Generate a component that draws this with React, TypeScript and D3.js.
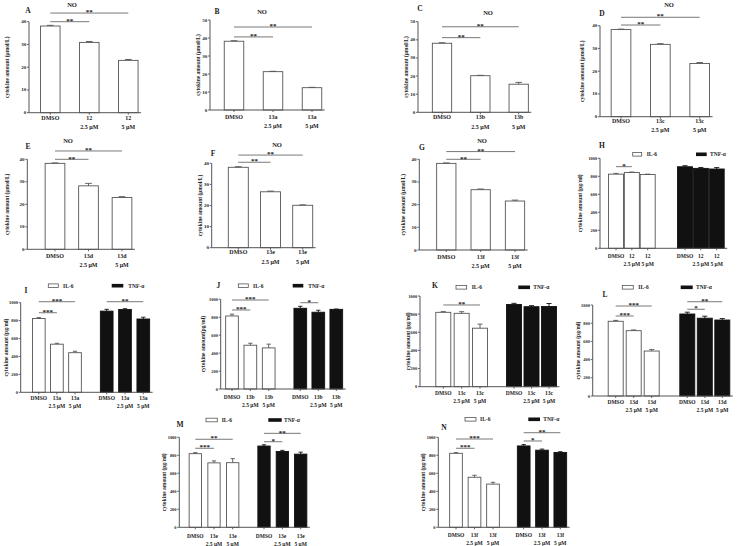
import React from "react";
import * as d3 from "d3";

const FONT = "'Liberation Serif', 'Times New Roman', serif";
const INK = "#222";
const LINE = "#555";

// ---------- data ----------
const doses = ["", "2.5 μM", "5 μM"];
const compounds = ["12", "13a", "13b", "13c", "13d", "13e", "13f"];
const noTicks40 = [0, 10, 20, 30, 40];
const noTicks50 = [0, 10, 20, 30, 40, 50];
const cytoTicks = [0, 200, 400, 600, 800, 1000];
const legendNames = ["IL-6", "TNF-α"];

const noA = [38.1, 30.9, 23.0]; const noAErr = [0.3, 0.4, 0.4];
const noB = [38.2, 21.3, 12.4]; const noBErr = [0.3, 0.2, 0.2];
const noC = [38.1, 20.2, 15.5]; const noCErr = [0.3, 0.2, 1.0];
const noD = [38.3, 31.8, 23.4]; const noDErr = [0.2, 0.3, 0.4];
const noE = [38.2, 28.2, 23.0]; const noEErr = [0.2, 1.1, 0.4];
const noF = [38.1, 26.5, 20.1]; const noFErr = [0.3, 0.3, 0.2];
const noG = [38.2, 26.6, 21.6]; const noGErr = [0.2, 0.3, 0.4];

const il6H = [824, 843, 820]; const il6HErr = [8, 4, 4];
const tnfH = [906, 888, 881]; const tnfHErr = [12, 10, 16];
const il6I = [824, 537, 442]; const il6IErr = [10, 10, 16];
const tnfI = [906, 925, 818]; const tnfIErr = [20, 8, 20];
const il6J = [814, 488, 458]; const il6JErr = [20, 22, 42];
const tnfJ = [900, 856, 888]; const tnfJErr = [22, 22, 4];
const il6K = [820, 809, 645]; const il6KErr = [8, 18, 45];
const tnfK = [907, 882, 884]; const tnfKErr = [12, 12, 33];
const il6L = [821, 718, 494]; const il6LErr = [10, 8, 16];
const tnfL = [901, 855, 835]; const tnfLErr = [20, 22, 16];
const il6M = [818, 716, 718]; const il6MErr = [12, 22, 45];
const tnfM = [903, 842, 813]; const tnfMErr = [14, 13, 22];
const il6N = [822, 556, 480]; const il6NErr = [8, 22, 20];
const tnfN = [904, 857, 832]; const tnfNErr = [15, 12, 8];

// significance: [fromBar, toBar, stars, level (data units)]
type Sig = [number, number, string, number];
const sigA: Sig[] = [[0, 1, "**", 40], [0, 2, "**", 43.8]];
const sigB: Sig[] = [[0, 1, "**", 40.6], [0, 2, "**", 46.1]];
const sigC: Sig[] = [[0, 1, "**", 41.2], [0, 2, "**", 47.2]];
const sigD: Sig[] = [[0, 1, "**", 40.3], [0, 2, "**", 43.7]];
const sigE: Sig[] = [[0, 1, "**", 40], [0, 2, "**", 43.7]];
const sigF: Sig[] = [[0, 1, "**", 40.5], [0, 2, "**", 43.9]];
const sigG: Sig[] = [[0, 1, "**", 40], [0, 2, "**", 43.4]];
const sigH: Sig[] = [[0, 1, "*", 907]];
const sigI: Sig[] = [[0, 1, "***", 888], [0, 2, "***", 1011], [3, 5, "**", 1011]];
const sigJ: Sig[] = [[0, 1, "***", 881], [0, 2, "***", 992], [3, 4, "*", 962]];
const sigK: Sig[] = [[0, 2, "**", 901]];
const sigL: Sig[] = [[0, 1, "***", 879], [0, 2, "***", 989], [3, 4, "*", 953], [3, 5, "**", 1036]];
const sigM: Sig[] = [[0, 1, "***", 878], [0, 2, "**", 978], [3, 4, "*", 951], [3, 5, "**", 1044]];
const sigN: Sig[] = [[0, 1, "***", 878], [0, 2, "***", 981], [3, 4, "*", 959], [3, 5, "**", 1051]];

// ---------- layout ----------
interface Cfg {
  letter: string;
  title?: string;
  yTitle: string;
  max: number;
  ticks: number[];
  compound: string;
  groups: { values: number[]; errs: number[]; dark: boolean }[];
  sig: Sig[];
  ax: number; yTop: number; yBot: number;
  centers: [number, number][];
  bw: number;
  yTitleX: number;
  letterPos: [number, number];
  titlePos?: [number, number];
  legend?: { y: number; wx: [number, number]; wt: number; bx: [number, number]; bt: number };
  labelDy: number;
  cyto: boolean;
}

const umol = "cytokine amount (μmol/L)";
const pg = "cytokine amount (pg/ml)";

const panels: Cfg[] = [
  { letter: "A", title: "NO", yTitle: umol, max: 40, ticks: noTicks40, compound: compounds[0],
    groups: [{ values: noA, errs: noAErr, dark: false }], sig: sigA,
    ax: 29, yTop: 21.7, yBot: 112.7, centers: [[50.3, 128.3]], bw: 19.5, yTitleX: 7,
    letterPos: [28, 10], titlePos: [72, 4], labelDy: 4.8, cyto: false },
  { letter: "B", title: "NO", yTitle: umol, max: 50, ticks: noTicks50, compound: compounds[1],
    groups: [{ values: noB, errs: noBErr, dark: false }], sig: sigB,
    ax: 210, yTop: 20, yBot: 110, centers: [[234, 312]], bw: 19.5, yTitleX: 197.5,
    letterPos: [217, 11], titlePos: [262, 11], labelDy: 7.2, cyto: false },
  { letter: "C", title: "NO", yTitle: umol, max: 50, ticks: noTicks50, compound: compounds[2],
    groups: [{ values: noC, errs: noCErr, dark: false }], sig: sigC,
    ax: 418, yTop: 21.7, yBot: 112.3, centers: [[442, 518.7]], bw: 19.3, yTitleX: 405.5,
    letterPos: [420, 8], titlePos: [488, 12], labelDy: 5, cyto: false },
  { letter: "D", title: "NO", yTitle: umol, max: 40, ticks: noTicks40, compound: compounds[3],
    groups: [{ values: noD, errs: noDErr, dark: false }], sig: sigD,
    ax: 600, yTop: 25.7, yBot: 116.7, centers: [[621, 699.7]], bw: 19.7, yTitleX: 582,
    letterPos: [602, 13], titlePos: [669, 4], labelDy: 4.2, cyto: false },
  { letter: "E", title: "NO", yTitle: umol, max: 40, ticks: noTicks40, compound: compounds[4],
    groups: [{ values: noE, errs: noEErr, dark: false }], sig: sigE,
    ax: 27.3, yTop: 159.3, yBot: 249.3, centers: [[55, 122]], bw: 19.7, yTitleX: 7,
    letterPos: [28, 146], titlePos: [68, 140], labelDy: 6.7, cyto: false },
  { letter: "F", title: "NO", yTitle: umol, max: 40, ticks: noTicks40, compound: compounds[5],
    groups: [{ values: noF, errs: noFErr, dark: false }], sig: sigF,
    ax: 211.7, yTop: 163.3, yBot: 247.7, centers: [[238.3, 302.7]], bw: 20, yTitleX: 199.5,
    letterPos: [213, 153], titlePos: [277, 144], labelDy: 4.6, cyto: false },
  { letter: "G", title: "NO", yTitle: umol, max: 40, ticks: noTicks40, compound: compounds[6],
    groups: [{ values: noG, errs: noGErr, dark: false }], sig: sigG,
    ax: 419.3, yTop: 159.3, yBot: 250, centers: [[446.3, 515]], bw: 19.3, yTitleX: 403,
    letterPos: [422, 147], titlePos: [482, 140], labelDy: 6.7, cyto: false },
  { letter: "H", yTitle: pg, max: 1000, ticks: cytoTicks, compound: compounds[0],
    groups: [{ values: il6H, errs: il6HErr, dark: false }, { values: tnfH, errs: tnfHErr, dark: true }], sig: sigH,
    ax: 600, yTop: 158.3, yBot: 248.3, centers: [[616, 647.7], [685, 716.7]], bw: 15, yTitleX: 580,
    letterPos: [602, 145], legend: { y: 154.3, wx: [632.7, 641.7], wt: 646.7, bx: [696, 706.7], bt: 710 },
    labelDy: 7.7, cyto: true },
  { letter: "I", yTitle: pg, max: 1000, ticks: cytoTicks, compound: compounds[1],
    groups: [{ values: il6I, errs: il6IErr, dark: false }, { values: tnfI, errs: tnfIErr, dark: true }], sig: sigI,
    ax: 20.7, yTop: 302.7, yBot: 392.3, centers: [[38.8, 75], [106.7, 143.3]], bw: 12.7, yTitleX: 6,
    letterPos: [26, 290], legend: { y: 285.7, wx: [48.3, 58.3], wt: 63, bx: [111.7, 123.3], bt: 128.3 },
    labelDy: 5.4, cyto: true },
  { letter: "J", yTitle: "cytokine amount(pg/ml)", max: 1000, ticks: cytoTicks, compound: compounds[2],
    groups: [{ values: il6J, errs: il6JErr, dark: false }, { values: tnfJ, errs: tnfJErr, dark: true }], sig: sigJ,
    ax: 220.7, yTop: 299.3, yBot: 389, centers: [[232, 268.7], [300.3, 336.3]], bw: 12.7, yTitleX: 202.7,
    letterPos: [218.3, 285.7], legend: { y: 285.7, wx: [238.3, 248.3], wt: 253, bx: [292.7, 303.3], bt: 308.3 },
    labelDy: 7.7, cyto: true },
  { letter: "K", yTitle: pg, max: 1000, ticks: cytoTicks, compound: compounds[3],
    groups: [{ values: il6K, errs: il6KErr, dark: false }, { values: tnfK, errs: tnfKErr, dark: true }], sig: sigK,
    ax: 420, yTop: 296, yBot: 386.7, centers: [[443.3, 480], [514, 549]], bw: 15, yTitleX: 408,
    letterPos: [435, 285], legend: { y: 287.3, wx: [456, 466.7], wt: 471.7, bx: [518.3, 530], bt: 533.3 },
    labelDy: 6, cyto: true },
  { letter: "L", yTitle: pg, max: 1000, ticks: cytoTicks, compound: compounds[4],
    groups: [{ values: il6L, errs: il6LErr, dark: false }, { values: tnfL, errs: tnfLErr, dark: true }], sig: sigL,
    ax: 592.7, yTop: 305, yBot: 396, centers: [[615.7, 651.7], [687.3, 722.3]], bw: 15, yTitleX: 578,
    letterPos: [605, 294], legend: { y: 287.3, wx: [622.3, 633.3], wt: 638.3, bx: [680.7, 692.7], bt: 696 },
    labelDy: 5.7, cyto: true },
  { letter: "M", yTitle: pg, max: 1000, ticks: cytoTicks, compound: compounds[5],
    groups: [{ values: il6M, errs: il6MErr, dark: false }, { values: tnfM, errs: tnfMErr, dark: true }], sig: sigM,
    ax: 179.3, yTop: 437.3, yBot: 527.3, centers: [[195.3, 232.7], [264, 300.7]], bw: 12.3, yTitleX: 164,
    letterPos: [180, 424], legend: { y: 420, wx: [206, 217.3], wt: 221.7, bx: [268.3, 281.7], bt: 284 },
    labelDy: 8.7, cyto: true },
  { letter: "N", yTitle: pg, max: 1000, ticks: cytoTicks, compound: compounds[6],
    groups: [{ values: il6N, errs: il6NErr, dark: false }, { values: tnfN, errs: tnfNErr, dark: true }], sig: sigN,
    ax: 438.3, yTop: 437.3, yBot: 527.3, centers: [[456, 493], [523.7, 560.3]], bw: 12.7, yTitleX: 423,
    letterPos: [444, 427], legend: { y: 419.3, wx: [465, 476], wt: 480, bx: [528.3, 540], bt: 543.3 },
    labelDy: 7.7, cyto: true },
];

function Panel({ cfg }: { cfg: Cfg }) {
  const y = d3.scaleLinear().domain([0, cfg.max]).range([cfg.yBot, cfg.yTop]);
  const xs = cfg.groups.map((g, gi) =>
    d3.scalePoint<number>().domain(d3.range(g.values.length)).range(cfg.centers[gi])
  );
  const bars = cfg.groups.flatMap((g, gi) =>
    g.values.map((v, i) => ({ v, e: g.errs[i], dark: g.dark, cx: xs[gi](i) as number, i }))
  );
  const xEnd = bars[bars.length - 1].cx + cfg.bw / 2 + 3;
  const tickFs = cfg.cyto ? 4.4 : 5;
  const labFs = cfg.cyto ? 5.5 : 6;
  const lineGap = cfg.cyto ? 8 : 9.2;
  const labels1 = ["DMSO", cfg.compound, cfg.compound];
  const cap = cfg.bw * 0.17;
  return (
    <g fontFamily={FONT} fontWeight="bold" fill={INK}>
      {/* y axis */}
      <line x1={cfg.ax} x2={cfg.ax} y1={cfg.yBot} y2={y(cfg.max)} stroke={LINE} strokeWidth={1} />
      {cfg.ticks.map((t) => (
        <g key={t}>
          <line x1={cfg.ax - 2} x2={cfg.ax} y1={y(t)} y2={y(t)} stroke={LINE} strokeWidth={0.9} />
          <text x={cfg.ax - 2.8} y={y(t)} fontSize={tickFs} textAnchor="end" dominantBaseline="central">{t}</text>
        </g>
      ))}
      <text transform={`translate(${cfg.yTitleX},${(cfg.yTop + cfg.yBot) / 2}) rotate(-90)`}
        fontSize={5.5} textAnchor="middle" dominantBaseline="central">{cfg.yTitle}</text>
      {/* bars */}
      {bars.map((b, k) => (
        <g key={k}>
          <rect x={b.cx - cfg.bw / 2} y={y(b.v)} width={cfg.bw} height={cfg.yBot - y(b.v)}
            fill={b.dark ? "#111" : "#fff"} stroke={b.dark ? "#111" : LINE} strokeWidth={0.9} />
          <line x1={b.cx} x2={b.cx} y1={y(b.v)} y2={y(b.v + b.e)} stroke={b.dark ? "#111" : LINE} strokeWidth={0.9} />
          <line x1={b.cx - cap} x2={b.cx + cap} y1={y(b.v + b.e)} y2={y(b.v + b.e)} stroke={b.dark ? "#111" : LINE} strokeWidth={0.9} />
        </g>
      ))}
      {/* x axis */}
      <line x1={cfg.ax} x2={xEnd} y1={cfg.yBot} y2={cfg.yBot} stroke={LINE} strokeWidth={1} />
      {bars.map((b, k) => (
        <g key={"l" + k}>
          <line x1={b.cx} x2={b.cx} y1={cfg.yBot} y2={cfg.yBot + 2} stroke={LINE} strokeWidth={0.9} />
          <text x={b.cx} y={cfg.yBot + cfg.labelDy} fontSize={labFs} textAnchor="middle" dominantBaseline="central">{labels1[b.i]}</text>
          {doses[b.i] && (
            <text x={b.cx} y={cfg.yBot + cfg.labelDy + lineGap} fontSize={labFs} textAnchor="middle" dominantBaseline="central">{doses[b.i]}</text>
          )}
        </g>
      ))}
      {/* significance */}
      {cfg.sig.map(([a, c, s, lv], k) => {
        const x1 = bars[a].cx, x2 = bars[c].cx, yy = y(lv);
        return (
          <g key={"s" + k}>
            <line x1={x1} x2={x2} y1={yy} y2={yy} stroke={LINE} strokeWidth={0.8} />
            <text x={(x1 + x2) / 2} y={yy + 1.2} fontSize={7} textAnchor="middle">{s}</text>
          </g>
        );
      })}
      {/* letter and title */}
      <text x={cfg.letterPos[0]} y={cfg.letterPos[1]} fontSize={7.5} textAnchor="middle" dominantBaseline="central">{cfg.letter}</text>
      {cfg.title && cfg.titlePos && (
        <text x={cfg.titlePos[0]} y={cfg.titlePos[1]} fontSize={6.5} textAnchor="middle" dominantBaseline="central">{cfg.title}</text>
      )}
      {cfg.legend && (
        <g>
          <rect x={cfg.legend.wx[0]} y={cfg.legend.y - 1.8} width={cfg.legend.wx[1] - cfg.legend.wx[0]} height={3.6}
            fill="#fff" stroke={LINE} strokeWidth={0.8} />
          <text x={cfg.legend.wt} y={cfg.legend.y} fontSize={5.5} dominantBaseline="central">{legendNames[0]}</text>
          <rect x={cfg.legend.bx[0]} y={cfg.legend.y - 1.8} width={cfg.legend.bx[1] - cfg.legend.bx[0]} height={3.6}
            fill="#111" />
          <text x={cfg.legend.bt} y={cfg.legend.y} fontSize={5.5} dominantBaseline="central">{legendNames[1]}</text>
        </g>
      )}
    </g>
  );
}

export default function App() {
  return (
    <svg width={737} height={546} style={{ position: "absolute", left: 0, top: 0, background: "#fff" }}>
      <rect width={737} height={546} fill="#fff" />
      {panels.map((p) => (
        <Panel key={p.letter} cfg={p} />
      ))}
    </svg>
  );
}
